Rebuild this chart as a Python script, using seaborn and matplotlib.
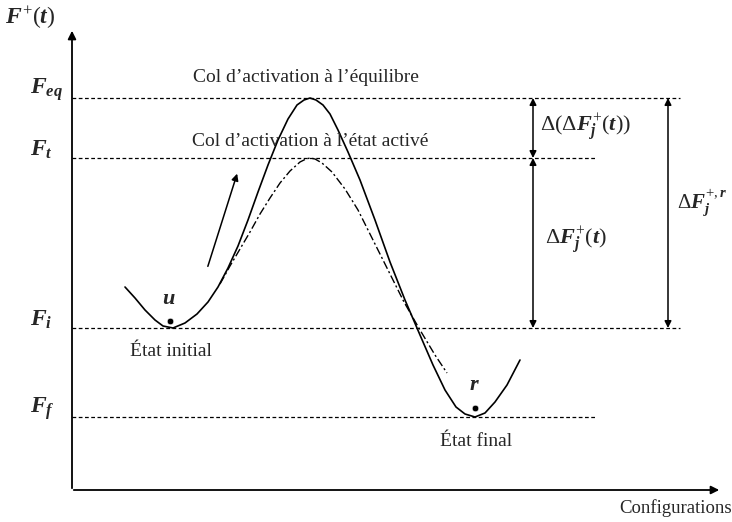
import numpy as np
import pandas as pd
import matplotlib
matplotlib.use("Agg")
import matplotlib.pyplot as plt
import seaborn as sns

# schéma (coordonnées en pixels, y vers le bas)
LEVEL_NAMES = [r"$F_{eq}$", r"$F_{t}$", r"$F_{i}$", r"$F_{f}$"]
LEVEL_Y     = [98, 158, 328, 417]
LEVEL_XEND  = [680, 595, 680, 595]

solid_x = [125, 135, 145, 155, 163, 173, 185, 197, 208, 218, 228, 238, 248, 258, 268, 278,
           288, 297, 304, 310, 316, 323, 330, 338, 348, 360, 375, 390, 405, 420, 433,
           445, 456, 465, 475, 485, 495, 507, 520]
solid_y = [287, 298, 310, 320, 326, 328, 323, 314, 302, 287, 268, 246, 220, 192, 165, 140,
           119, 105, 100, 98, 100, 105, 114, 130, 152, 180, 220, 262, 300, 335, 365,
           390, 407, 414, 417, 413, 402, 385, 360]

dash_x = [220, 230, 240, 250, 260, 270, 280, 290, 300, 306, 310, 315, 322, 332, 345,
          358, 372, 388, 404, 420, 435, 447]
dash_y = [284, 266, 249, 232, 214, 198, 183, 171, 162, 159, 158, 159, 163, 172, 189,
          210, 238, 270, 302, 330, 355, 373]

MIN_POINTS = pd.DataFrame({"x": [170, 475], "y": [321, 408], "name": ["u", "r"]})

plt.rcParams["mathtext.fontset"] = "custom"
plt.rcParams["mathtext.it"] = "Liberation Serif:italic:bold"
plt.rcParams["mathtext.rm"] = "Liberation Serif"
plt.rcParams["mathtext.bf"] = "Liberation Serif:bold"

sns.set_style("white")
plt.rcParams["font.family"] = ["Liberation Serif", "DejaVu Serif"]

fig = plt.figure(figsize=(7.32, 5.22), dpi=100)
ax = fig.add_axes([0, 0, 1, 1])
ax.set_xlim(0, 732)
ax.set_ylim(522, 0)
ax.axis("off")

# axes du schéma
ax.annotate("", xy=(72, 28), xytext=(72, 491),
            arrowprops=dict(arrowstyle="-|>", color="black", lw=1.3, mutation_scale=12))
ax.annotate("", xy=(722, 490), xytext=(71, 490),
            arrowprops=dict(arrowstyle="-|>", color="black", lw=1.3, mutation_scale=12))

# niveaux d'énergie
for name, y, xend in zip(LEVEL_NAMES, LEVEL_Y, LEVEL_XEND):
    ax.hlines(y, 72, xend, colors="black", linestyles=(0, (3, 2)), linewidth=0.9)
    ax.text(30, y - 8, name, fontsize=17, ha="left", va="center")

# courbes
sns.lineplot(x=solid_x, y=solid_y, sort=False, color="black", linewidth=1.2, ax=ax)
sns.lineplot(x=dash_x, y=dash_y, sort=False, color="black", linewidth=1.0,
             linestyle=(0, (6, 2, 1.5, 2)), ax=ax)
sns.scatterplot(data=MIN_POINTS, x="x", y="y", color="black", s=22, ax=ax, legend=False)
for _, row in MIN_POINTS.iterrows():
    ax.text(row["x"] - 1, row["y"] - 22, f"${row['name']}$", fontsize=16,
            ha="center", va="center")

# flèche de parcours
ax.annotate("", xy=(238, 171), xytext=(207, 269),
            arrowprops=dict(arrowstyle="-|>", color="black", lw=1.1, mutation_scale=10))

# cotes verticales
arrow_kw = dict(arrowstyle="<|-|>", color="black", lw=1.1, mutation_scale=10,
                shrinkA=0, shrinkB=0)
ax.annotate("", xy=(533, 98), xytext=(533, 158), arrowprops=arrow_kw)
ax.annotate("", xy=(533, 158), xytext=(533, 328), arrowprops=arrow_kw)
ax.annotate("", xy=(668, 98), xytext=(668, 328), arrowprops=arrow_kw)

# textes
ax.text(5, 18, r"$F^{+}(t)$", fontsize=17, ha="left", va="center")
ax.text(193, 78, "Col d\u2019activation à l\u2019équilibre", fontsize=14, ha="left", va="center")
ax.text(192, 141, "Col d\u2019activation à l\u2019état activé", fontsize=14, ha="left", va="center")
ax.text(540, 127, r"$\mathrm{\Delta}(\mathrm{\Delta} F_j^{+}(t))$", fontsize=16, ha="left", va="center")
ax.text(545, 240, r"$\mathrm{\Delta} F_j^{+}(t)$", fontsize=16, ha="left", va="center")
ax.text(677, 202, r"$\mathrm{\Delta} F_j^{+,r}$", fontsize=15, ha="left", va="center")
ax.text(130, 352, "État initial", fontsize=14, ha="left", va="center")
ax.text(440, 441, "État final", fontsize=14, ha="left", va="center")
ax.text(619, 508, "Configurations", fontsize=13.5, ha="left", va="center")

fig.savefig("out.png", dpi=100)
plt.close(fig)
